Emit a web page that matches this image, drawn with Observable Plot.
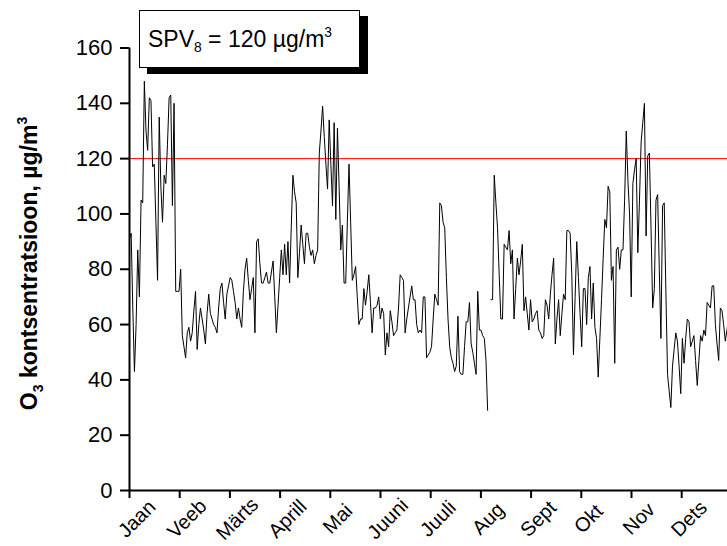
<!DOCTYPE html>
<html>
<head>
<meta charset="utf-8">
<script src="https://cdn.jsdelivr.net/npm/d3@7"></script>
<script src="https://cdn.jsdelivr.net/npm/@observablehq/plot@0.6"></script>
<style>
  html, body { margin: 0; padding: 0; background: #fff; overflow: hidden; }
  #wrap { position: relative; width: 727px; height: 546px; overflow: hidden; }
  #legend {
    position: absolute; left: 139px; top: 10px; width: 221px; height: 58px;
    box-sizing: border-box; border: 1px solid #000; background: #fff;
    box-shadow: 8px 6px 0 #000;
    font-family: Arial, "Liberation Sans", sans-serif; font-size: 23px; color: #000;
    padding-left: 8px; line-height: 56px; white-space: nowrap;
  }
  #legend sub { font-size: 0.6em; vertical-align: -0.35em; line-height: 0; }
  #legend sup { font-size: 0.6em; vertical-align: 0.75em; line-height: 0; }
</style>
</head>
<body>
<div id="wrap">
  <div id="legend">SPV<sub>8</sub> = 120 µg/m<sup>3</sup></div>
</div>
<script>
// Month names along the x axis and their starting day of year
const months = ["Jaan", "Veeb", "Märts", "Aprill", "Mai", "Juuni", "Juuli", "Aug", "Sept", "Okt", "Nov", "Dets"];
const monthStartDays = [0, 30.42, 60.83, 91.25, 121.67, 152.08, 182.5, 212.92, 243.33, 273.75, 304.17, 334.58];

// Y axis tick values (µg/m³)
const yTicks = [0, 20, 40, 60, 80, 100, 120, 140, 160];

// Limit value for the 8-hour ozone mean (µg/m³)
const limitValue = [120];

// Daily ozone concentration, µg/m³ (index = day of year; null = missing)
const o3Daily = [
  91, 93, 66, 43, 60, 87, 70, 105, 104, 148,
  130, 123, 142, 141, 117, 118, 97, 76, 135, 110,
  97, 114, 111, 125, 142, 143, 103, 140, 72, 72,
  72, 80, 56, 52, 48, 57, 59, 54, 57, 65,
  72, 51, 60, 66, 62, 58, 53, 64, 71, 64,
  62, 60, 59, 57, 66, 73, 75, 68, 62, 71,
  74, 77, 76, 72, 68, 62, 66, 62, 59, 72,
  80, 84, 76, 69, 73, 77, 57, 90, 91, 82,
  75, 75, 77, 79, 75, 75, 79, 83, 70, 57,
  67, 77, 87, 78, 89, 78, 90, 75, 95, 114,
  108, 104, 77, 86, 96, 89, 82, 93, 93, 88,
  85, 87, 82, 85, 87, 122, 130, 139, 128, 118,
  109, 134, 118, 103, 133, 98, 131, 110, 87, 96,
  75, 75, 97, 118, 97, 76, 78, 81, 70, 60,
  62, 62, 73, 67, 72, 78, 68, 57, 66, 66,
  67, 70, 62, 66, 64, 49, 57, 52, 65, 61,
  56, 57, 58, 66, 78, 77, 76, 57, 62, 66,
  70, 74, 69, 69, 60, 57, 58, 57, 70, 70,
  48, 49, 50, 52, 62, 71, 69, 67, 104, 103,
  97, 95, 77, 62, 52, 48, 46, 43, 45, 63,
  43, 42, 42, 52, 61, 61, 68, 53, 50, 46,
  42, 72, 58, 58, 56, 55, 47, 29, null, 69,
  69, 114, 104, 95, 78, 62, 62, 89, 88, 87,
  94, 82, 87, 62, 73, 84, 78, 83, 89, 65,
  70, 64, 58, 69, 61, 62, 64, 65, 58, 57,
  55, 56, 69, 67, 62, 71, 78, 84, 53, 62,
  69, 56, 64, 71, 69, 94, 94, 93, 78, 49,
  70, 90, 77, 64, 52, 73, 73, 60, 77, 81,
  62, 75, 59, 55, 41, 55, 69, 84, 98, 95,
  110, 108, 76, 81, 46, 87, 88, 80, 87, 87,
  105, 130, 112, 100, 70, 111, 116, 120, 86, 105,
  126, 133, 140, 92, 121, 122, 95, 66, 73, 105,
  107, 80, 55, 103, 104, 72, 42, 36, 30, 45,
  51, 57, 54, 45, 35, 55, 46, 55, 62, 61,
  52, 54, 56, 47, 38, 47, 56, 54, 58, 56,
  68, 67, 66, 74, 74, 60, 53, 47, 66, 65,
  60, 54, 58, 62
];

const font = "Arial, 'Liberation Sans', sans-serif";

const chart = Plot.plot({
  width: 727,
  height: 546,
  marginLeft: 129,
  marginRight: 0,
  marginTop: 47.5,
  marginBottom: 56,
  x: {domain: [0, 365], range: [129, 731.4]},
  y: {domain: [0, 160], range: [490, 47.5]},
  style: {fontFamily: font, background: "#fff", color: "#000", overflow: "hidden"},
  marks: [
    Plot.ruleY(limitValue, {stroke: "#ff0000", strokeWidth: 1}),
    Plot.lineY(o3Daily, {x: (d, i) => i, y: d => d, stroke: "#000", strokeWidth: 1}),
    Plot.axisY(yTicks, {
      tickSize: 9, tickPadding: 8, fontSize: 22, strokeWidth: 2,
      label: null, tickFormat: d => String(d)
    }),
    Plot.axisX(monthStartDays, {
      tickSize: 8, strokeWidth: 2, label: null, tickFormat: () => ""
    }),
    Plot.text(months, {
      x: (d, i) => monthStartDays[i], frameAnchor: "bottom",
      rotate: -45, textAnchor: "middle", dx: 12, dy: 33,
      fontSize: 20, fill: "#000"
    }),
    Plot.ruleX([0], {stroke: "#000", strokeWidth: 2}),
    Plot.ruleY([0], {stroke: "#000", strokeWidth: 2})
  ]
});

// Y axis title with subscript/superscript
const svg = d3.select(chart);
const title = svg.append("text")
  .attr("transform", "translate(37,263.5) rotate(-90)")
  .attr("text-anchor", "middle")
  .attr("font-family", font)
  .attr("font-weight", "bold")
  .attr("font-size", 23)
  .attr("fill", "#000");
title.append("tspan").text("O");
title.append("tspan").attr("font-size", 14).attr("dy", 6).text("3");
title.append("tspan").attr("dy", -6).text(" kontsentratsioon, µg/m");
title.append("tspan").attr("font-size", 14).attr("dy", -10).text("3");

document.getElementById("wrap").prepend(chart);
</script>
</body>
</html>
